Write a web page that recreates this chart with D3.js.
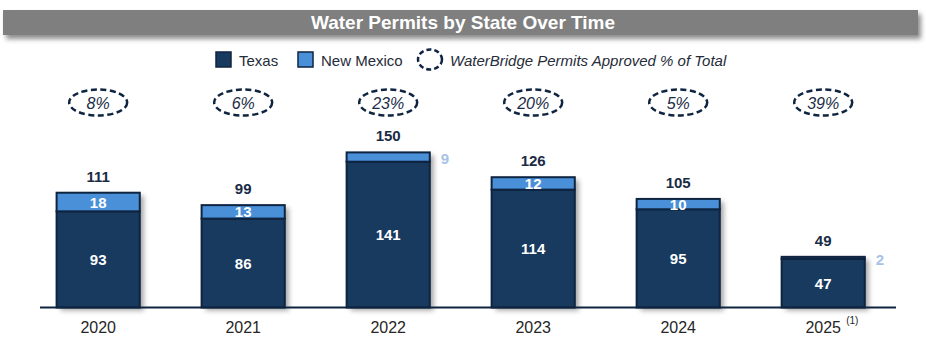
<!DOCTYPE html>
<html><head><meta charset="utf-8">
<script src="https://cdn.jsdelivr.net/npm/d3@7/dist/d3.min.js"></script>
<style>
html,body{margin:0;padding:0;background:#fff;}
svg{display:block;font-family:"Liberation Sans",Arial,sans-serif;}
</style></head>
<body><svg id="chart" width="926" height="347"></svg>
<script>
const years = ["2020","2021","2022","2023","2024","2025"];
const texas = [93, 86, 141, 114, 95, 47];
const newMexico = [18, 13, 9, 12, 10, 2];
const approvedPct = ["8%","6%","23%","20%","5%","39%"];
const footnotes = ["","","","","","(1)"];
const insideThreshold = 10;

const svg = d3.select("#chart");
const defs = svg.append("defs");
const f = defs.append("filter").attr("id","shadow").attr("x","-20%").attr("y","-20%").attr("width","150%").attr("height","150%");
f.append("feDropShadow").attr("dx",4).attr("dy",3).attr("stdDeviation",2.5).attr("flood-color","#000").attr("flood-opacity",0.35);
const f2 = defs.append("filter").attr("id","tshadow").attr("x","-5%").attr("y","-50%").attr("width","110%").attr("height","250%");
f2.append("feDropShadow").attr("dx",3).attr("dy",4).attr("stdDeviation",2.5).attr("flood-color","#000").attr("flood-opacity",0.45);

const cTexas = "#173a5e", cNM = "#4a90d9", cOutline = "#0e2440", cText = "#1a2b45";

// Title bar
svg.append("rect").attr("x",3).attr("y",10).attr("width",915).attr("height",25).attr("fill","#7f7f7f").attr("filter","url(#tshadow)");
svg.append("text").attr("x",463).attr("y",29).attr("text-anchor","middle").attr("fill","#fff")
  .attr("font-weight","bold").attr("font-size",19).text("Water Permits by State Over Time");

// Legend
const lg = svg.append("g").attr("font-size",15).attr("fill","#262c38");
lg.append("rect").attr("x",216).attr("y",52).attr("width",15).attr("height",15).attr("fill",cTexas).attr("stroke",cOutline).attr("stroke-width",1.5);
lg.append("text").attr("x",239).attr("y",65.5).text("Texas");
lg.append("rect").attr("x",298).attr("y",52).attr("width",15).attr("height",15).attr("fill",cNM).attr("stroke",cOutline).attr("stroke-width",1.5);
lg.append("text").attr("x",321).attr("y",65.5).text("New Mexico");
lg.append("ellipse").attr("cx",430).attr("cy",59.5).attr("rx",12).attr("ry",10).attr("fill","none").attr("stroke",cOutline).attr("stroke-width",2.5).attr("stroke-dasharray","5,3");
lg.append("text").attr("x",450).attr("y",65.5).attr("font-style","italic").text("WaterBridge Permits Approved % of Total");

// Scales
const x = d3.scaleBand().domain(years).range([27.6, 893.8]).paddingInner(0.4265).paddingOuter(0.2);
const y = d3.scaleLinear().domain([0, 150]).range([307.5, 152.4]);
const totals = texas.map((t,i)=>t+newMexico[i]);

// Bars
const bars = svg.append("g");
years.forEach((yr,i)=>{
  const g = bars.append("g");
  const x0 = x(yr), bw = x.bandwidth();
  g.append("rect").attr("x",x0).attr("y",y(totals[i])).attr("width",bw).attr("height",y(0)-y(totals[i]))
    .attr("fill",cTexas).attr("filter","url(#shadow)");
  g.append("rect").attr("x",x0).attr("y",y(texas[i])).attr("width",bw).attr("height",y(0)-y(texas[i]))
    .attr("fill",cTexas).attr("stroke",cOutline).attr("stroke-width",2);
  g.append("rect").attr("x",x0).attr("y",y(totals[i])).attr("width",bw).attr("height",y(texas[i])-y(totals[i]))
    .attr("fill",cNM).attr("stroke",cOutline).attr("stroke-width",2);
});

// Baseline
svg.append("line").attr("x1",40).attr("x2",896).attr("y1",307.5).attr("y2",307.5).attr("stroke","#0e2440").attr("stroke-width",2.2);

// Labels
const lab = svg.append("g").attr("font-weight","bold").attr("font-size",15).attr("text-anchor","middle");
years.forEach((yr,i)=>{
  const cx = x(yr) + x.bandwidth()/2;
  lab.append("text").attr("x",cx).attr("y",(y(texas[i])+y(0))/2+5.5).attr("fill","#fff").text(texas[i]);
  if(newMexico[i] >= insideThreshold){
    lab.append("text").attr("x",cx).attr("y",(y(totals[i])+y(texas[i]))/2+5.5).attr("fill","#fff").text(newMexico[i]);
  } else {
    lab.append("text").attr("x",x(yr)+x.bandwidth()+11).attr("y",(y(totals[i])+y(texas[i]))/2+7).attr("text-anchor","start").attr("fill","#a7c3e6").text(newMexico[i]);
  }
  lab.append("text").attr("x",cx).attr("y",y(totals[i])-11).attr("fill",cText).text(totals[i]);
  // percent ellipse
  svg.append("ellipse").attr("cx",cx).attr("cy",102.5).attr("rx",29).attr("ry",13).attr("fill","none")
    .attr("stroke",cOutline).attr("stroke-width",2.5).attr("stroke-dasharray","6,3.5");
  svg.append("text").attr("x",cx).attr("y",108.5).attr("text-anchor","middle").attr("font-size",16).attr("font-style","italic").attr("fill",cText).text(approvedPct[i]);
  // x label
  svg.append("text").attr("x",cx).attr("y",333).attr("text-anchor","middle").attr("font-size",16).attr("fill","#262626").text(yr);
  if(footnotes[i]){
    svg.append("text").attr("x",cx+23).attr("y",324).attr("font-size",10).attr("fill","#262626").text(footnotes[i]);
  }
});
</script></body></html>
